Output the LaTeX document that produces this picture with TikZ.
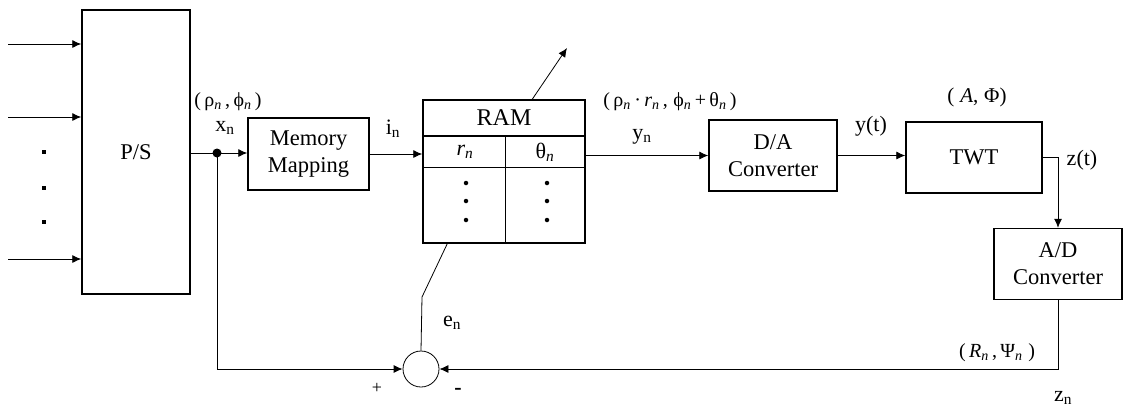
\documentclass[tikz,border=0pt]{standalone}
\usepackage{fontspec}
\setmainfont{Liberation Serif}
\usetikzlibrary{arrows.meta,calc}
\newcommand{\nsi}{\textsubscript{\itshape n}}
\newcommand{\nsu}{\textsubscript{n}}
\begin{document}
\begin{tikzpicture}[x=1pt,y=-1pt,
  blk/.style={draw, line width=1.5pt, inner sep=0pt, align=center, font=\fontsize{22.5}{27}\selectfont},
  conn/.style={line width=0.8pt},
  arr/.style={conn, -{Latex[length=9pt,width=8pt]}},
  lbl/.style={inner sep=0pt, font=\fontsize{22}{24}\selectfont},
  tup/.style={inner sep=0pt, font=\fontsize{20}{22}\selectfont},
  sq/.style={fill, inner sep=0pt, minimum size=4.5pt},
  rdot/.style={fill, circle, inner sep=0pt, minimum size=4.5pt},
]
\useasboundingbox (0,0) rectangle (1127,408);
\fill[white] (0,0) rectangle (1127,408);

% blocks
\node[blk, minimum width=108pt, minimum height=284pt] (ps) at (136,152) {P/S};
\node[blk, minimum width=121pt, minimum height=72pt] (mm) at (308.5,154) {Memory\\Mapping};
\node[draw, line width=1.5pt, minimum width=162pt, minimum height=143pt, inner sep=0pt] (ram) at (504,171.5) {};
\node[blk, minimum width=128pt, minimum height=71pt] (da) at (773,155.5) {D/A\\Converter};
\node[blk, minimum width=136pt, minimum height=71pt] (twt) at (974,157.5) {TWT};
\node[blk, minimum width=128pt, minimum height=71pt] (ad) at (1058,264) {A/D\\Converter};
\node[draw, circle, minimum size=36pt, inner sep=0pt, line width=0.8pt] (sum) at (421,369) {};

% RAM table
\coordinate (h1) at (0,136);
\coordinate (h2) at (0,167);
\coordinate (dv) at (505,136);
\draw[line width=1.1pt] (ram.west |- h1) -- (ram.east |- h1);
\draw[line width=0.9pt] (ram.west |- h2) -- (ram.east |- h2);
\draw[line width=0.9pt] (dv) -- (dv |- ram.south);
\node[inner sep=0pt, font=\fontsize{24}{26}\selectfont] (ramt) at (504,118) {RAM};
\node[inner sep=0pt, font=\fontsize{22}{24}\selectfont] (rn) at (465,152) {\itshape r\nsi};
\node[inner sep=0pt, font=\fontsize{22}{24}\selectfont] (tn) at (545,152) {θ\nsi};
\foreach \yy [count=\k] in {183,201,220} {
  \node[rdot] (dl\k) at (466,\yy) {};
  \node[rdot] (dr\k) at (547,\yy) {};
}

% inputs
\coordinate (i1) at (8,44);
\coordinate (i2) at (8,117);
\coordinate (i3) at (8,259);
\draw[arr] (i1) -- (i1 -| ps.west);
\draw[arr] (i2) -- (i2 -| ps.west);
\draw[arr] (i3) -- (i3 -| ps.west);
\node[sq] (s1) at (44,152) {};
\node[sq] (s2) at (44,188) {};
\node[sq] (s3) at (44,222) {};

% forward path
\coordinate (jd) at (217,153);
\draw[arr] (ps.east |- jd) -- (mm.west |- jd);
\fill (jd) circle (4.5pt);
\draw[arr] (mm.east) -- (ram.west |- mm.east);
\draw[arr] (ram.east |- da.west) -- (da.west);
\draw[arr] (da.east) -- (twt.west |- da.east);
\draw[arr] (twt.east) -- (ad.north |- twt.east) -- (ad.north);

% RAM output arrow
\coordinate (tip) at (567,48);
\draw[arr] ($(ram.north west)+(110,0)$) -- (tip);

% feedback
\draw[arr] (ad.south) -- (ad.south |- sum.east) -- (sum.east);
\draw[arr] (jd) -- (jd |- sum.west) -- (sum.west);
\coordinate (bend) at (422,297);
\draw[conn] ($(ram.south west)+(25,0)$) -- (bend) -- (sum.north);

% labels
\node[tup] (l1) at (228,102) {(\,ρ\nsi\,,\,ϕ\nsi\,)};
\node[lbl] (l2) at (225,128) {x\nsu};
\node[lbl] (l3) at (393,129) {i\nsu};
\node[tup] (l4) at (670,102) {(\,ρ\nsi\,·\,{\itshape r}\nsi\,,\;ϕ\nsi\,+\,θ\nsi\,)};
\node[lbl] (l5) at (642,137) {y\nsu};
\node[lbl] (l6) at (871,126) {y(t)};
\node[tup, font=\fontsize{21}{23}\selectfont] (l7) at (977,97) {(\;{\itshape A},\;Φ)};
\node[lbl] (l8) at (1082,160) {z(t)};
\node[tup] (l9) at (997,353) {(\,{\itshape R}\nsi\,,\,Ψ\nsi\;)};
\node[lbl] (l10) at (1063,398) {z\nsu};
\node[lbl] (l11) at (452,323) {e\nsu};
\node[lbl, font=\fontsize{18}{20}\selectfont] (l12) at (377,388) {+};
\node[lbl] (l13) at (458,391) {\textbf{-}};
\end{tikzpicture}
\end{document}
